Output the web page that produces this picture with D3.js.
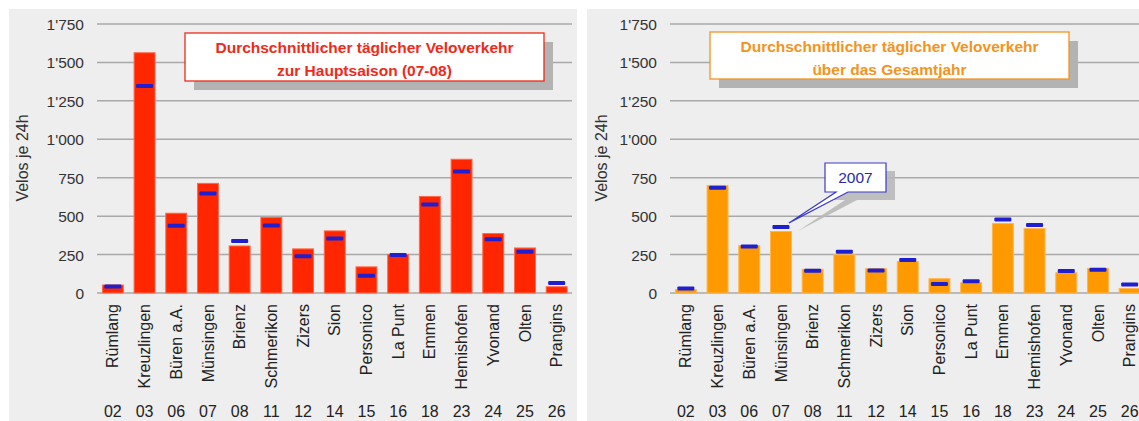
<!DOCTYPE html>
<html><head><meta charset="utf-8">
<script src="https://cdn.jsdelivr.net/npm/d3@7"></script>
<style>
html,body{margin:0;padding:0;background:#fff;}
svg{display:block;font-family:Arial,"Liberation Sans",sans-serif;}
</style></head>
<body><svg id="c" width="1139" height="421"></svg>
<script>
const categories = ["Rümlang","Kreuzlingen","Büren a.A.","Münsingen","Brienz","Schmerikon","Zizers","Sion","Personico","La Punt","Emmen","Hemishofen","Yvonand","Olten","Prangins"];
const codes = ["02","03","06","07","08","11","12","14","15","16","18","23","24","25","26"];
const yTicks = [0,250,500,750,1000,1250,1500,1750];
// Hauptsaison (07-08)
const hauptBars    = [52,1563,519,713,306,491,287,404,170,250,628,870,387,293,41];
const haupt2007    = [43,1346,437,648,339,439,239,354,113,248,576,791,350,269,65];
// Gesamtjahr
const jahrBars     = [22,700,309,400,154,249,158,205,93,67,452,419,132,160,30];
const jahr2007     = [30,685,303,430,145,268,147,214,58,76,478,443,143,152,56];
const titleHaupt = ["Durchschnittlicher täglicher Veloverkehr","zur Hauptsaison (07-08)"];
const titleJahr  = ["Durchschnittlicher täglicher Veloverkehr","über das Gesamtjahr"];
const yTitle = "Velos je 24h";
const calloutText = "2007";

const svg = d3.select("#c");
const fmt = d3.formatLocale({decimal:".", thousands:"'", grouping:[3], currency:["",""]}).format(",d");

function panel(o){
  const g = svg.append("g");
  g.append("rect").attr("x",o.px).attr("y",9).attr("width",o.pw).attr("height",430).attr("fill","#eeeeee");
  const x = d3.scaleBand().domain(categories).range([o.x0,o.x0+15*31.7]).paddingInner(0.34).paddingOuter(0.17);
  const y = d3.scaleLinear().domain([0,1750]).range([293,24]);
  // grid
  g.append("g").selectAll("line").data(yTicks).join("line")
    .attr("x1",o.x0).attr("x2",o.gx1).attr("y1",d=>y(d)).attr("y2",d=>y(d))
    .attr("stroke","#a9a9a9").attr("stroke-width",1.5);
  // y axis labels
  const ya = g.append("g").attr("transform",`translate(${o.x0-13},0)`)
    .call(d3.axisLeft(y).tickValues(yTicks).tickFormat(fmt).tickSize(0).tickPadding(0));
  ya.select(".domain").remove();
  ya.selectAll("text").attr("font-size",15.5).attr("fill","#333").attr("font-family","Arial, 'Liberation Sans', sans-serif").attr("dy","0.35em");
  g.append("text").attr("transform",`translate(${o.tx},158) rotate(-90)`).attr("text-anchor","middle")
    .attr("dy","0.35em").attr("font-size",16).attr("fill","#333").text(yTitle);
  // bars
  g.append("g").selectAll("rect").data(o.bars).join("rect")
    .attr("x",(d,i)=>x(categories[i])).attr("width",x.bandwidth())
    .attr("y",d=>y(d)).attr("height",d=>y(0)-y(d))
    .attr("fill",o.color).attr("stroke",o.edge).attr("stroke-width",1);
  // markers
  const mw = 17;
  g.append("g").selectAll("rect").data(o.marks).join("rect")
    .attr("x",(d,i)=>x(categories[i])+x.bandwidth()/2-mw/2).attr("width",mw)
    .attr("y",d=>y(d)-2).attr("height",4).attr("rx",1)
    .attr("fill","#1f1fcf");
  // category labels
  g.append("g").selectAll("text").data(categories).join("text")
    .attr("transform",d=>`translate(${x(d)+x.bandwidth()/2},304) rotate(-90)`)
    .attr("text-anchor","end").attr("dy","0.35em").attr("font-size",16).attr("fill","#222").text(d=>d);
  g.append("g").selectAll("text").data(codes).join("text")
    .attr("x",(d,i)=>x(categories[i])+x.bandwidth()/2).attr("y",417)
    .attr("text-anchor","middle").attr("font-size",16).attr("fill","#222").text(d=>d);
  // title box
  const b = o.box;
  g.append("rect").attr("x",b.x+9).attr("y",b.y+9).attr("width",b.w).attr("height",b.h).attr("fill","#b3b3b3");
  g.append("rect").attr("x",b.x).attr("y",b.y).attr("width",b.w).attr("height",b.h).attr("fill","#fff")
    .attr("stroke",o.titleColor).attr("stroke-width",1.3);
  g.append("g").selectAll("text").data(o.title).join("text")
    .attr("x",b.x+b.w/2).attr("y",(d,i)=>b.y+19.5+i*23.5).attr("text-anchor","middle")
    .attr("font-size",15.5).attr("font-weight","bold").attr("fill",o.titleColor).text(d=>d);
  return {x,y,g};
}

panel({px:9,pw:568,x0:97,gx1:572,tx:22,bars:hauptBars,marks:haupt2007,color:"#ff2600",edge:"#ff6a4d",
  title:titleHaupt,titleColor:"#ee2a1a",box:{x:185,y:33,w:359,h:48}});
const R = panel({px:587,pw:560,x0:670,gx1:1139,tx:601,bars:jahrBars,marks:jahr2007,color:"#ff9900",edge:"#ffb54d",
  title:titleJahr,titleColor:"#f39420",box:{x:710,y:32,w:359,h:47}});

// callout "2007" pointing to Münsingen 2007 marker
const cx = R.x("Münsingen")+R.x.bandwidth()/2+8, cy = R.y(jahr2007[3])-4;
const bx=825, by=163, bw=61, bh=29;
function calloutPath(dx,dy){
  return `M${bx+dx},${by+dy} H${bx+bw+dx} V${by+bh+dy} H${848+dx} L${cx+dx},${cy+dy} L${836+dx},${by+bh+dy} H${bx+dx} Z`;
}
R.g.append("path").attr("d",calloutPath(9,8)).attr("fill","#b8b8b8").attr("opacity",0.9);
R.g.append("path").attr("d",calloutPath(0,0)).attr("fill","#fff").attr("stroke","#3a3acc").attr("stroke-width",1.2);
R.g.append("text").attr("x",bx+bw/2).attr("y",by+bh/2).attr("dy","0.35em").attr("text-anchor","middle")
  .attr("font-size",15.5).attr("fill","#2a2aa8").text(calloutText);
</script></body></html>
